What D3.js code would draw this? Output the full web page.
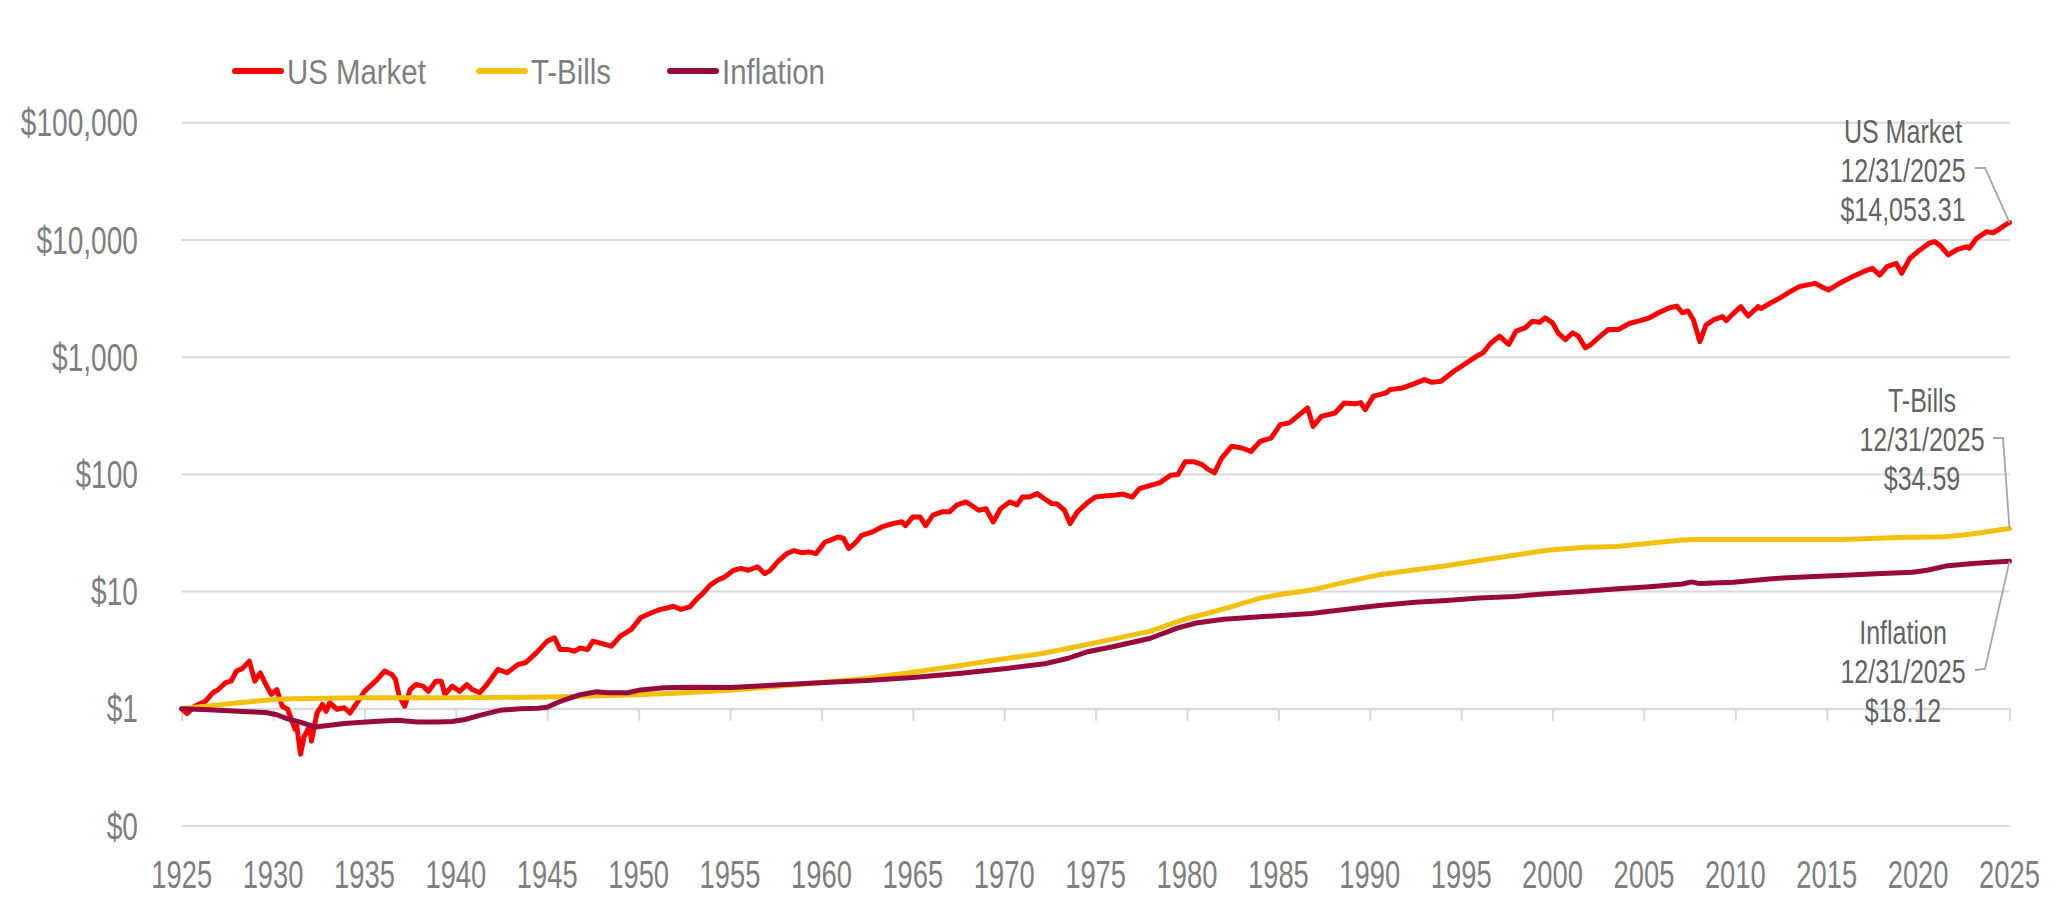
<!DOCTYPE html>
<html>
<head>
<meta charset="utf-8">
<script src="https://cdn.jsdelivr.net/npm/d3@7"></script>
<style>
  html, body { margin: 0; padding: 0; background: #ffffff; }
  svg { display: block; }
</style>
</head>
<body>
<div id="chart"></div>
<script>
// ---------------- DATA ----------------
const seriesNames = ["US Market", "T-Bills", "Inflation"];
const seriesColors = ["#ff0000", "#f2c10e", "#990a3c"];
const endDateLabel = "12/31/2025";
const endValues = [14053.31, 34.59, 18.12];

const xTickYears = [1925,1930,1935,1940,1945,1950,1955,1960,1965,1970,1975,1980,1985,1990,1995,2000,2005,2010,2015,2020,2025];
const yTickValues = [0.1, 1, 10, 100, 1000, 10000, 100000];

// [year, growth of $1]
const usMarket = [
  [1925.0,1.00],[1925.3,0.91],[1925.7,1.05],[1926.3,1.16],[1926.7,1.37],[1927.0,1.46],[1927.4,1.67],[1927.7,1.72],
  [1928.0,2.10],[1928.3,2.20],[1928.7,2.55],[1929.0,1.72],[1929.3,2.03],[1929.6,1.61],[1929.9,1.33],[1930.2,1.46],
  [1930.5,1.05],[1930.8,0.99],[1931.2,0.67],[1931.3,0.71],[1931.5,0.41],[1931.7,0.58],[1932.0,0.71],[1932.1,0.53],
  [1932.4,0.92],[1932.7,1.09],[1932.9,0.95],[1933.1,1.13],[1933.5,0.99],[1933.9,1.02],[1934.2,0.92],[1934.6,1.13],
  [1935.0,1.41],[1935.4,1.61],[1935.7,1.78],[1936.1,2.10],[1936.5,1.96],[1936.7,1.78],[1936.9,1.28],[1937.2,1.05],
  [1937.5,1.46],[1937.8,1.61],[1938.2,1.56],[1938.5,1.41],[1938.9,1.72],[1939.2,1.72],[1939.4,1.33],[1939.8,1.56],
  [1940.2,1.41],[1940.6,1.61],[1940.9,1.46],[1941.3,1.37],[1941.7,1.61],[1942.3,2.17],[1942.8,2.03],[1943.4,2.39],
  [1943.8,2.47],[1944.4,3.00],[1945.0,3.78],[1945.4,4.04],[1945.7,3.21],[1946.1,3.21],[1946.5,3.10],[1946.8,3.30],
  [1947.2,3.20],[1947.5,3.78],[1948.0,3.60],[1948.5,3.42],[1949.0,4.17],[1949.6,4.76],[1950.1,5.97],[1950.7,6.60],
  [1951.2,7.05],[1951.6,7.28],[1951.9,7.50],[1952.3,7.05],[1952.8,7.40],[1953.2,8.70],[1953.5,9.60],[1953.9,11.3],
  [1954.3,12.5],[1954.7,13.3],[1955.2,15.2],[1955.6,15.8],[1956.0,15.2],[1956.5,16.3],[1956.9,14.2],[1957.2,15.2],
  [1957.6,17.9],[1958.1,21.1],[1958.5,22.4],[1958.9,21.5],[1959.3,21.8],[1959.7,21.1],[1960.2,26.5],[1960.5,27.5],
  [1960.9,29.2],[1961.2,28.5],[1961.5,23.3],[1961.9,26.5],[1962.2,30.2],[1962.8,32.3],[1963.3,35.6],[1963.9,38.0],
  [1964.4,39.4],[1964.6,36.5],[1965.0,43.4],[1965.4,43.4],[1965.7,36.5],[1966.1,44.9],[1966.6,47.9],[1967.0,47.9],
  [1967.4,54.6],[1967.9,58.2],[1968.2,54.6],[1968.6,49.4],[1969.0,51.0],[1969.4,39.3],[1969.8,51.0],[1970.3,58.2],
  [1970.7,55.0],[1971.0,64.3],[1971.4,64.3],[1971.8,68.6],[1972.2,62.0],[1972.6,56.4],[1972.9,56.0],[1973.3,49.4],
  [1973.6,38.0],[1974.0,47.9],[1974.6,58.2],[1975.0,64.3],[1975.5,65.5],[1976.0,66.4],[1976.5,68.0],[1977.0,64.0],
  [1977.4,75.7],[1978.0,80.7],[1978.5,84.6],[1979.1,98.5],[1979.5,100],[1979.9,128],[1980.4,128],[1980.8,122],
  [1981.1,112],[1981.5,103],[1981.9,138],[1982.45,174],[1983.0,168],[1983.5,157],[1984.0,191],[1984.6,204],
  [1985.1,266],[1985.6,275],[1986.15,324],[1986.6,369],[1986.9,257],[1987.35,313],[1988.1,334],[1988.6,407],
  [1989.2,400],[1989.5,410],[1989.75,357],[1990.2,465],[1990.9,496],[1991.1,529],[1991.8,547],[1992.3,584],
  [1993.0,644],[1993.4,610],[1993.9,623],[1994.6,759],[1995.3,895],[1995.85,1021],[1996.2,1090],[1996.6,1310],
  [1997.1,1513],[1997.6,1283],[1998.0,1667],[1998.5,1780],[1998.9,2030],[1999.3,1990],[1999.6,2168],[2000.0,1963],
  [2000.3,1614],[2000.7,1414],[2001.1,1614],[2001.4,1520],[2001.8,1202],[2002.1,1283],[2002.5,1462],[2003.05,1722],
  [2003.6,1722],[2004.2,1940],[2004.7,2030],[2005.3,2168],[2005.8,2393],[2006.4,2641],[2006.8,2729],[2007.1,2393],
  [2007.4,2480],[2007.7,2098],[2008.06,1358],[2008.4,1884],[2008.8,2079],[2009.3,2218],[2009.5,2050],[2009.9,2367],
  [2010.3,2698],[2010.7,2248],[2011.25,2698],[2011.4,2600],[2011.9,2884],[2012.4,3177],[2013.0,3624],[2013.5,3999],
  [2014.35,4268],[2014.7,3999],[2015.1,3750],[2015.7,4268],[2016.4,4863],[2017.0,5370],[2017.5,5730],[2017.9,5020],
  [2018.3,5920],[2018.8,6318],[2019.1,5200],[2019.55,6986],[2020.1,8227],[2020.6,9382],[2020.9,9680],[2021.2,9000],
  [2021.65,7455],[2022.1,8227],[2022.65,8770],[2022.8,8500],[2023.2,10330],[2023.75,11780],[2024.1,11500],[2024.5,12590],
  [2024.9,13880],[2025.0,14053.31]
];

const tBills = [
  [1925.0,1.00],[1926.0,1.04],[1927.0,1.08],[1928.0,1.12],[1929.0,1.16],[1930.0,1.20],[1931.0,1.22],[1933.0,1.23],
  [1935.0,1.24],[1940.0,1.24],[1945.0,1.26],[1948.0,1.29],[1950.0,1.32],[1952.0,1.36],[1953.5,1.40],[1955.0,1.44],
  [1957.5,1.55],[1960.0,1.68],[1962.5,1.82],[1965.0,2.05],[1967.5,2.33],[1970.0,2.67],[1972.0,2.95],[1974.0,3.40],
  [1976.0,3.95],[1978.0,4.60],[1980.0,5.90],[1981.25,6.60],[1982.4,7.40],[1984.0,8.80],[1985.0,9.40],[1986.8,10.3],
  [1988.6,12.0],[1990.5,13.9],[1992.3,15.2],[1994.2,16.6],[1996.0,18.4],[1997.9,20.4],[1999.7,22.5],[2001.6,23.8],
  [2003.5,24.3],[2005.3,25.8],[2007.1,27.6],[2008.0,27.8],[2012.0,27.8],[2015.9,27.8],[2019.0,29.0],[2021.4,29.4],
  [2022.5,30.4],[2023.5,31.9],[2024.3,33.4],[2025.0,34.59]
];

const inflation = [
  [1925.0,1.00],[1926.5,0.98],[1928.3,0.95],[1929.6,0.93],[1930.2,0.89],[1930.8,0.82],[1931.6,0.76],[1932.3,0.70],
  [1933.0,0.72],[1933.9,0.75],[1935.5,0.78],[1936.8,0.80],[1937.9,0.77],[1939.0,0.77],[1939.8,0.78],[1940.5,0.81],
  [1941.3,0.88],[1942.4,0.97],[1943.5,1.00],[1944.5,1.01],[1945.0,1.03],[1945.5,1.12],[1946.0,1.20],[1946.8,1.32],
  [1947.7,1.40],[1948.3,1.37],[1949.4,1.37],[1950.1,1.45],[1951.4,1.51],[1953.0,1.53],[1955.0,1.52],[1957.0,1.58],
  [1960.2,1.68],[1962.5,1.74],[1965.0,1.85],[1967.5,2.00],[1970.0,2.20],[1972.2,2.42],[1973.5,2.70],[1974.5,3.05],
  [1976.0,3.40],[1978.0,4.00],[1979.5,4.90],[1980.5,5.40],[1982.0,5.80],[1984.0,6.10],[1986.8,6.50],[1988.5,7.00],
  [1990.5,7.60],[1992.5,8.10],[1994.2,8.40],[1996.0,8.80],[1997.9,9.10],[1999.7,9.60],[2001.6,10.0],[2003.4,10.5],
  [2005.3,11.0],[2007.1,11.6],[2007.6,12.1],[2008.05,11.7],[2009.9,12.0],[2012.0,12.9],[2014.0,13.4],[2016.0,13.8],
  [2018.0,14.3],[2019.7,14.6],[2020.5,15.2],[2021.5,16.5],[2023.0,17.4],[2024.0,17.8],[2025.0,18.12]
];

// ---------------- LAYOUT ----------------
const W = 2070, H = 924;
const FONT = "'Liberation Sans', Arial, Helvetica, sans-serif";
const GRID = "#d9d9d9";
const TXT = "#7f7f7f";
const ANN = "#636363";

const svg = d3.select("#chart").append("svg").attr("width", W).attr("height", H)
  .style("background", "#ffffff");

const x = d3.scaleLinear().domain([1925, 2025]).range([181.7, 2009.5]);
const y = d3.scaleLog().domain([0.1, 100000]).range([826, 122.8]);

function label(g, px, py, str, o) {
  return g.append("text")
    .attr("transform", `translate(${px},${py}) scale(${o.sx},1)`)
    .attr("text-anchor", o.anchor || "middle")
    .attr("dy", "0.36em")
    .style("font-family", FONT)
    .style("font-size", o.size + "px")
    .style("fill", o.fill)
    .text(str);
}

// Gridlines
const grid = svg.append("g");
grid.selectAll("line").data(yTickValues).join("line")
  .attr("x1", x(1925)).attr("x2", x(2025))
  .attr("y1", d => y(d)).attr("y2", d => y(d))
  .attr("stroke", GRID).attr("stroke-width", 2);

// Y labels
const fmtY = d3.format("$,.0f");
const yLab = svg.append("g");
yTickValues.forEach(v => label(yLab, 138, y(v), fmtY(v), {size: 38, sx: 0.74, anchor: "end", fill: TXT}));

// X axis crossing at $1
const xAxis = d3.axisBottom(x).tickValues(xTickYears).tickSize(12).tickFormat("");
const xg = svg.append("g").attr("transform", `translate(0,${y(1)})`).call(xAxis);
xg.select(".domain").attr("stroke", GRID).attr("stroke-width", 2);
xg.selectAll(".tick line").attr("stroke", GRID).attr("stroke-width", 2);

// X labels at the bottom
const xLab = svg.append("g");
xTickYears.forEach(yr => label(xLab, x(yr), 874, String(yr), {size: 38, sx: 0.72, fill: TXT}));

// Series
const line = d3.line().x(d => x(d[0])).y(d => y(d[1]));
const seriesData = [usMarket, tBills, inflation];
const lines = svg.append("g");
seriesData.forEach((s, i) => {
  lines.append("path").datum(s)
    .attr("d", line)
    .attr("fill", "none")
    .attr("stroke", seriesColors[i])
    .attr("stroke-width", 5)
    .attr("stroke-linejoin", "round")
    .attr("stroke-linecap", "round");
});

// Legend
const legend = svg.append("g");
const legendX = [235, 479, 670];
seriesNames.forEach((n, i) => {
  legend.append("line")
    .attr("x1", legendX[i]).attr("x2", legendX[i] + 46)
    .attr("y1", 71).attr("y2", 71)
    .attr("stroke", seriesColors[i]).attr("stroke-width", 6).attr("stroke-linecap", "round");
  label(legend, legendX[i] + 52, 71, n, {size: 35, sx: 0.84, anchor: "start", fill: TXT});
});

// End annotations
const fmtEnd = d3.format("$,.2f");
const annCX = [1903, 1922, 1903];
const annTopY = [131, 400, 632];
const lineGap = 39;
const ann = svg.append("g");
seriesNames.forEach((n, i) => {
  const lines3 = [n, endDateLabel, fmtEnd(endValues[i])];
  lines3.forEach((t, k) => label(ann, annCX[i], annTopY[i] + k * lineGap, t, {size: 32.5, sx: 0.77, fill: ANN}));
});

// Leader lines from the date line to the series end point
const leaderStart = [[1975, 168], [1993, 438], [1975, 670]];
const leaderElbow = [[1985, 168], [2003, 438], [1985, 669]];
seriesNames.forEach((n, i) => {
  const pts = [leaderStart[i], leaderElbow[i], [x(2025), y(endValues[i])]];
  ann.append("path")
    .attr("d", d3.line()(pts))
    .attr("fill", "none")
    .attr("stroke", "#a6a6a6")
    .attr("stroke-width", 1.8);
});
</script>
</body>
</html>
